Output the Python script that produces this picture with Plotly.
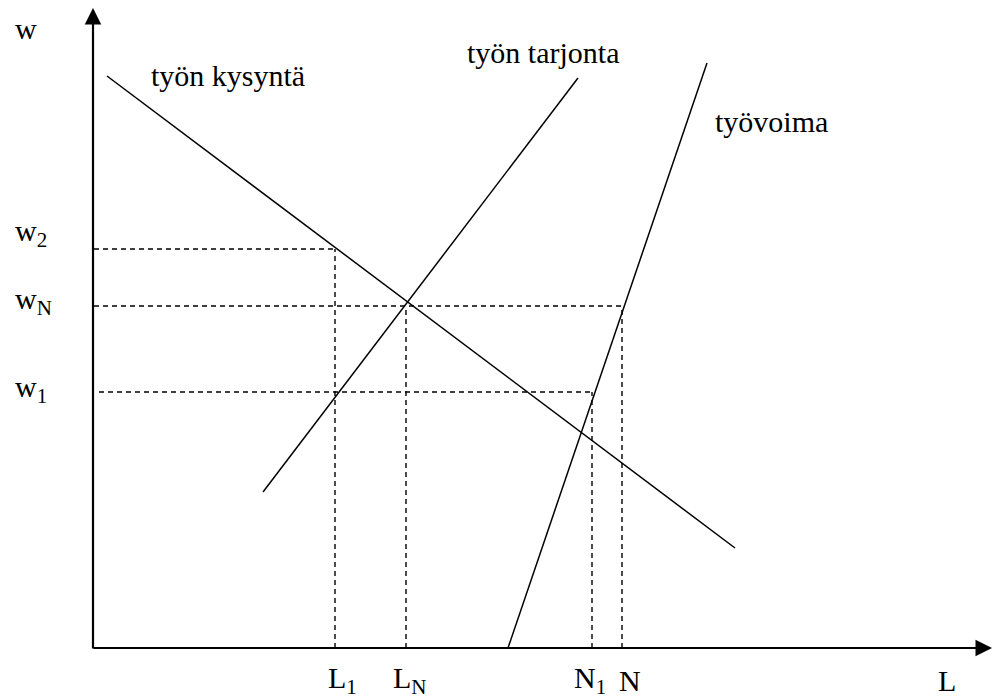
import plotly.graph_objects as go

# Curves (logical units: origin at axes intersection)
demand_x = [14, 642]
demand_y = [572, 100]
supply_x = [170, 485]
supply_y = [156, 570]
labour_x = [415, 614]
labour_y = [0, 585]

# Wage levels and employment levels
w_labels = ["w<sub>2</sub>", "w<sub>N</sub>", "w<sub>1</sub>"]
w_values = [399, 342, 256]
w_start = [1, 1, 6]
w_end = [242, 529, 499]   # horizontal dashed line ends (L1, N, N1)
w_label_y = [415, 347, 259]

l_labels = ["L<sub>1</sub>", "L<sub>N</sub>", "N<sub>1</sub>", "N"]
l_values = [242, 313, 499, 529]
l_top = [399, 342, 256, 342]
l_label_x = [249, 317, 497, 537]

x_tip = 899
y_tip = 640

FONT = "Liberation Serif"
FS = 30

fig = go.Figure()

line_style = dict(color="black", width=1.5)
for xs, ys in [(demand_x, demand_y), (supply_x, supply_y), (labour_x, labour_y)]:
    fig.add_trace(go.Scatter(x=xs, y=ys, mode="lines", line=line_style,
                             hoverinfo="skip", showlegend=False))

dash_style = dict(color="black", width=1.4, dash="5px,4px")
for v, s, e in zip(w_values, w_start, w_end):
    fig.add_trace(go.Scatter(x=[s, e], y=[v, v], mode="lines", line=dash_style,
                             hoverinfo="skip", showlegend=False))
for v, t in zip(l_values, l_top):
    fig.add_trace(go.Scatter(x=[v, v], y=[0, t], mode="lines", line=dash_style,
                             hoverinfo="skip", showlegend=False))

# Axes with arrows
axis_arrow = dict(showarrow=True, arrowhead=2, arrowsize=1.5, arrowwidth=2.2,
                  arrowcolor="black", axref="x", ayref="y", xref="x", yref="y", text="")
fig.add_annotation(x=0, y=y_tip, ax=0, ay=-2, **axis_arrow)
fig.add_annotation(x=x_tip, y=0, ax=-1, ay=0, **axis_arrow)

def label(text, x, y, xanchor="left"):
    fig.add_annotation(x=x, y=y, text=text, showarrow=False, xref="x", yref="y",
                       xanchor=xanchor, yanchor="middle",
                       font=dict(family=FONT, size=FS, color="black"))

label("w", -80, 620)
for t, v in zip(w_labels, w_label_y):
    label(t, -80, v)
for t, v in zip(l_labels, l_label_x):
    label(t, v, -32, xanchor="center")
label("L", 854, -32, xanchor="center")

label("työn kysyntä", 56, 573)
label("työn tarjonta", 372, 596)
label("työvoima", 620, 527)

fig.update_layout(
    width=994, height=698,
    margin=dict(l=0, r=0, t=0, b=0),
    paper_bgcolor="white", plot_bgcolor="white",
    xaxis=dict(range=[-93, 901], visible=False, fixedrange=True),
    yaxis=dict(range=[-50, 648], visible=False, fixedrange=True),
)

fig.write_html("out.html", config={"displayModeBar": False},
               post_script="document.body.style.margin='0';document.body.style.overflow='hidden';")
